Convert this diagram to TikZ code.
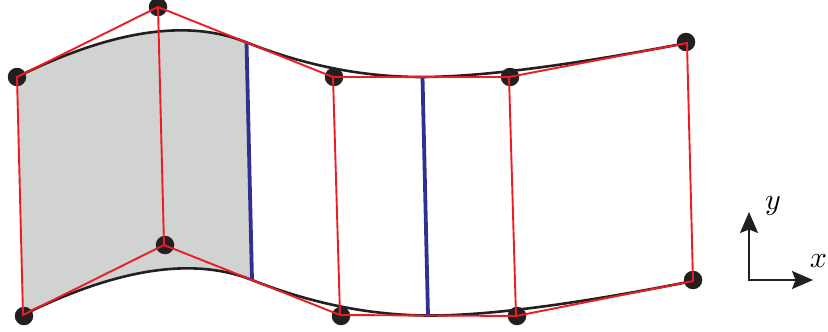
\documentclass[tikz,border=0pt]{standalone}
\usetikzlibrary{arrows.meta,calc}
\definecolor{patchgrey}{HTML}{D1D3D2}
\definecolor{ink}{HTML}{231F20}
\definecolor{netred}{HTML}{ED1C24}
\definecolor{secblue}{HTML}{2E3192}
\tikzset{
  knot/.style={circle,fill=ink,inner sep=0pt,minimum size=18.5pt},
  netline/.style={draw=netred,line width=1.9pt,line join=miter},
  spline/.style={draw=ink,line width=2.6pt},
  section/.style={draw=secblue,line width=3.8pt},
  axis/.style={draw=ink,line width=1.7pt,-{Stealth[length=21pt,width=18pt,inset=3.5pt]}},
  axlabel/.style={inner sep=0pt,scale=3}
}
\begin{document}
\begin{tikzpicture}[x=1pt,y=-1pt]
\useasboundingbox (0,0) rectangle (828,332);
% control points
\coordinate (t0) at (17,77);
\coordinate (t1) at (158,7);
\coordinate (t2) at (333,77);
\coordinate (t3) at (509,77);
\coordinate (t4) at (687,43);
\coordinate (b0) at (23,315);
\coordinate (b1) at (164,245);
\coordinate (b2) at (340,315);
\coordinate (b3) at (516,316);
\coordinate (b4) at (693,281);
% knot points
\coordinate (tm) at ($(t1)!.5!(t2)$);
\coordinate (tn) at ($(t2)!.5!(t3)$);
\coordinate (bm) at ($(b1)!.5!(b2)$);
\coordinate (bn) at ($(b2)!.5!(b3)$);
% shaded patch
\fill[patchgrey] (t0) .. controls ($(t0)!2/3!(t1)$) and ($(tm)!2/3!(t1)$) .. (tm)
  -- (bm) .. controls ($(bm)!2/3!(b1)$) and ($(b0)!2/3!(b1)$) .. (b0) -- cycle;
% boundary curves
\path[spline] (t0) .. controls ($(t0)!2/3!(t1)$) and ($(tm)!2/3!(t1)$) .. (tm)
  .. controls ($(tm)!2/3!(t2)$) and ($(tn)!2/3!(t2)$) .. (tn)
  .. controls ($(tn)!2/3!(t3)$) and ($(t4)!2/3!(t3)$) .. (t4);
\path[spline] (b0) .. controls ($(b0)!2/3!(b1)$) and ($(bm)!2/3!(b1)$) .. (bm)
  .. controls ($(bm)!2/3!(b2)$) and ($(bn)!2/3!(b2)$) .. (bn)
  .. controls ($(bn)!2/3!(b3)$) and ($(b4)!2/3!(b3)$) .. (b4);
% blue sections
\path[section] ([xshift=1pt]tm) -- (bm);
\path[section] ([xshift=1.5pt]tn) -- (bn);
% control point markers
\node[knot] (T0) at (t0) {};
\node[knot] (T1) at (t1) {};
\node[knot] (T2) at (334,77) {};
\node[knot] (T3) at (510,77) {};
\node[knot] (T4) at (686,42) {};
\node[knot] (B0) at (24,316) {};
\node[knot] (B1) at (165,245) {};
\node[knot] (B2) at (341,316) {};
\node[knot] (B3) at (517,316) {};
\node[knot] (B4) at (693,280) {};
% control net
\path[netline] (t0) -- (t1) -- (t2) -- (t3) -- (t4) -- (b4) -- (b3) -- (b2) -- (b1) -- (b0) -- cycle;
\path[netline] (t1) -- (b1);
\path[netline] (t2) -- (b2);
\path[netline] (t3) -- (b3);
% axes
\coordinate (o) at (749,280);
\coordinate (ytip) at (749,212);
\coordinate (xtip) at (813,280);
\path[axis] (o) -- (ytip);
\path[axis] ([xshift=-.85pt]o) -- (xtip);
\node[axlabel] (ylab) at (773,206) {$y$};
\node[axlabel,anchor=east] (xlab) at (827.5,261) {$x$};
\end{tikzpicture}
\end{document}
